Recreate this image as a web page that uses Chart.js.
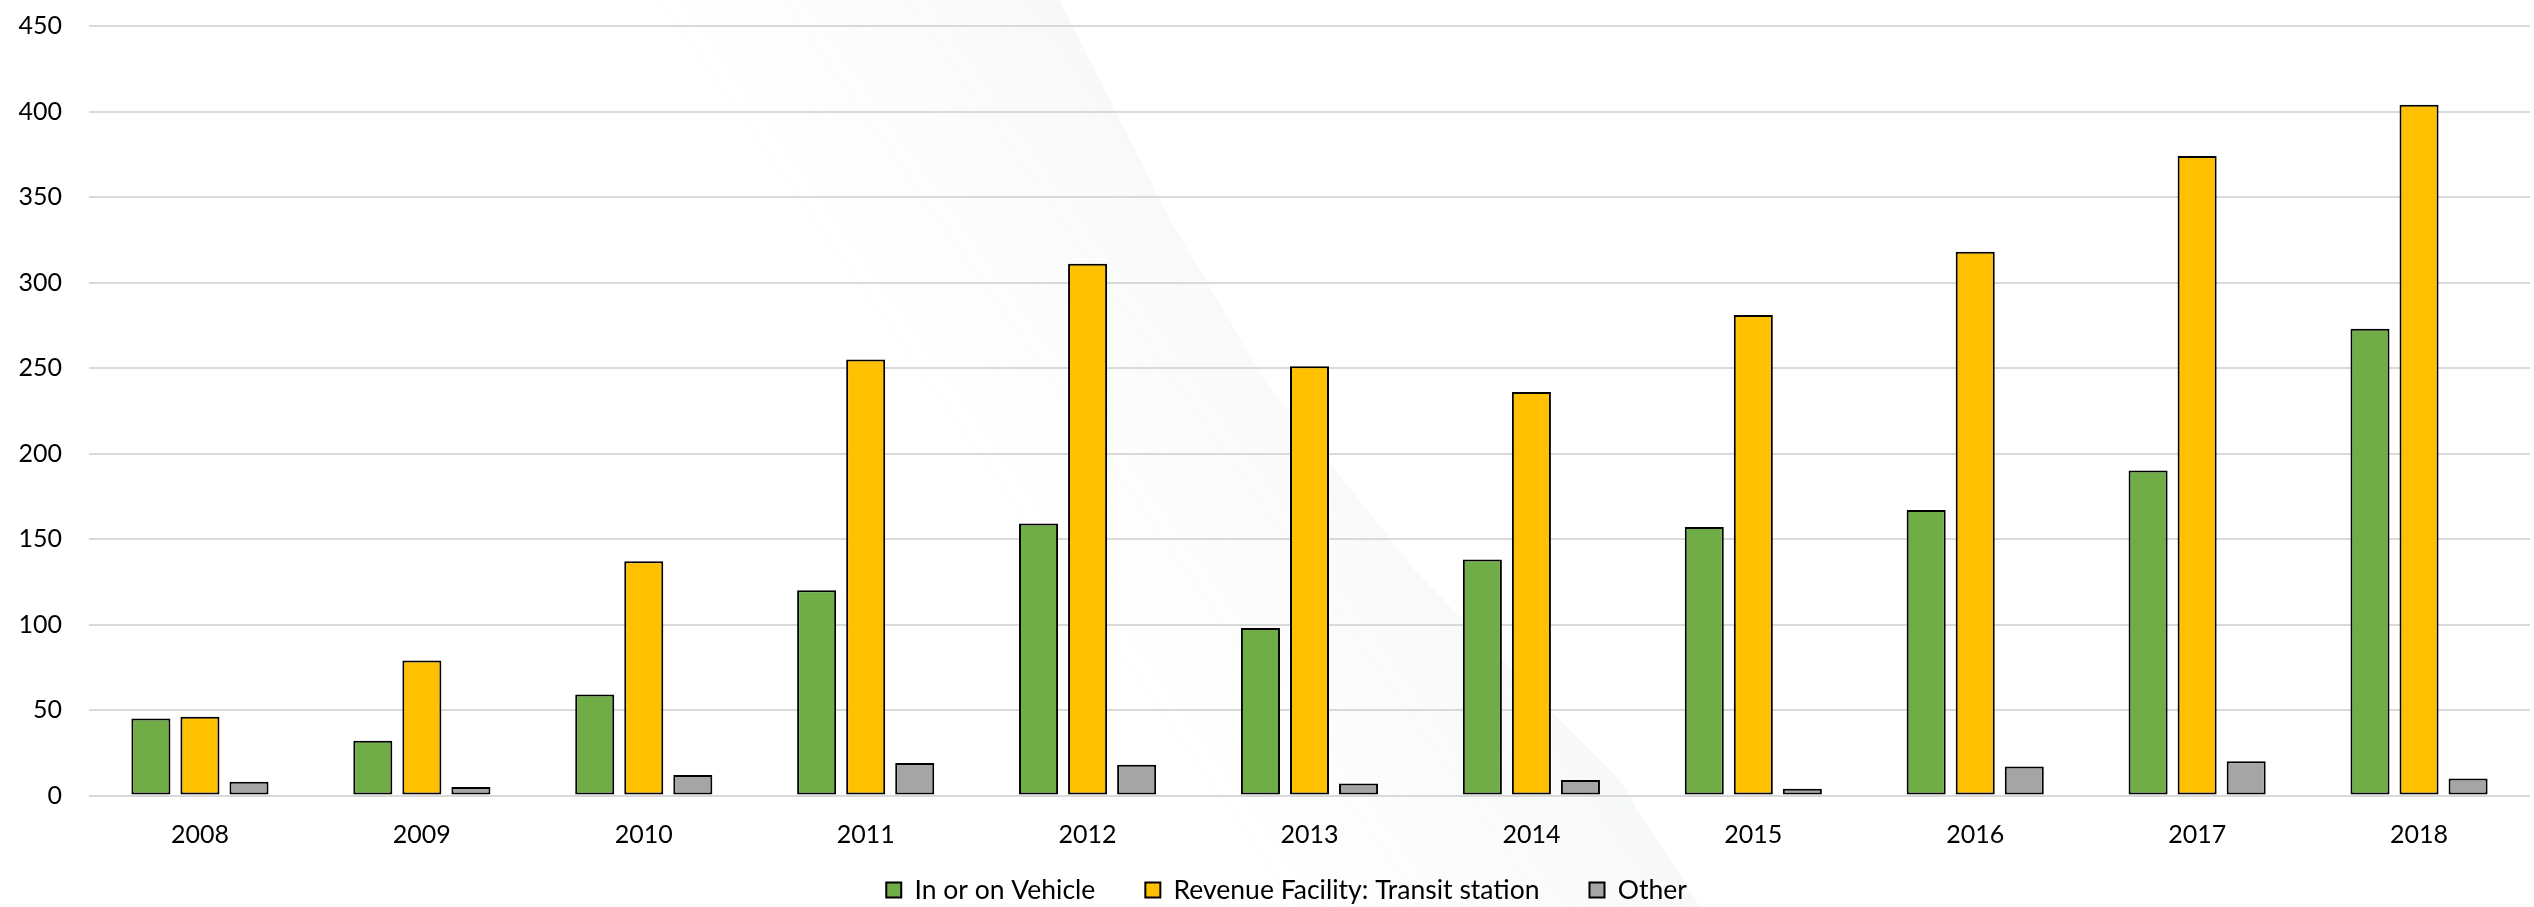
<!DOCTYPE html>
<html>
<head>
<meta charset="utf-8">
<script src="https://cdn.jsdelivr.net/npm/chart.js@4/dist/chart.umd.min.js"></script>
<style>
  html, body { margin: 0; padding: 0; background: #ffffff; }
  #wrap { width: 2534px; height: 907px; }
</style>
</head>
<body>
<div id="wrap"><canvas id="c" width="2534" height="907"></canvas></div>
<script>
// Incidents by location, 2008-2018
const years = ['2008', '2009', '2010', '2011', '2012', '2013', '2014', '2015', '2016', '2017', '2018'];
const inOrOnVehicle = [45, 32, 59, 120, 159, 98, 138, 157, 167, 190, 273];
const transitStation = [46, 79, 137, 255, 311, 251, 236, 281, 318, 374, 404];
const other = [8, 5, 12, 19, 18, 7, 9, 4, 17, 20, 10];
const seriesNames = ['In or on Vehicle', 'Revenue Facility: Transit station', 'Other'];

const LEGEND_FONT = 26.5;
const LEGEND_GAP = 50;

// Soft light sweep behind the plot
const hazePlugin = {
  id: 'haze',
  beforeDraw(chart) {
    const { ctx, width, height } = chart;
    const edge = [
      [0.418, 0.0], [0.462, 0.243], [0.499, 0.419],
      [0.558, 0.628], [0.639, 0.860], [0.671, 1.0]
    ].map(([fx, fy]) => [fx * width, fy * height]);
    const spread = 420;
    const nx = 0.817, ny = -0.576;
    const mx = 0.545 * width, my = 0.5 * height;
    const depth = spread * nx;
    const grad = ctx.createLinearGradient(mx - depth * nx, my - depth * ny, mx, my);
    grad.addColorStop(0, 'rgba(140, 160, 155, 0)');
    grad.addColorStop(1, 'rgba(140, 160, 155, 0.065)');
    ctx.save();
    ctx.beginPath();
    ctx.moveTo(edge[0][0], edge[0][1]);
    for (let i = 1; i < edge.length; i++) ctx.lineTo(edge[i][0], edge[i][1]);
    for (let i = edge.length - 1; i >= 0; i--) ctx.lineTo(edge[i][0] - spread, edge[i][1]);
    ctx.closePath();
    ctx.fillStyle = grad;
    ctx.fill();
    ctx.restore();
  }
};

// Keep the wide gaps between legend entries but sit the row closer to the axis labels
const legendRowPlugin = {
  id: 'legendRow',
  afterLayout(chart) {
    const lg = chart.legend;
    if (!lg) return;
    const rowCenter = chart.height * 0.9813;
    const current = lg.top + LEGEND_GAP + LEGEND_FONT / 2;
    const delta = current - rowCenter;
    lg.top -= delta;
    lg.bottom -= delta;
    const nudge = chart.width * 0.0085;
    lg.left += nudge;
    lg.right += nudge;
  }
};

Chart.defaults.font.family = 'Lato, "Liberation Sans", sans-serif';
Chart.defaults.font.size = 25;
Chart.defaults.color = '#000000';

const barStyle = {
  borderColor: '#000000',
  borderWidth: 2,
  borderSkipped: false,
  barPercentage: 0.796,
  categoryPercentage: 0.663
};

new Chart(document.getElementById('c'), {
  type: 'bar',
  data: {
    labels: years,
    datasets: [
      Object.assign({ label: seriesNames[0], data: inOrOnVehicle, backgroundColor: '#70AD47' }, barStyle),
      Object.assign({ label: seriesNames[1], data: transitStation, backgroundColor: '#FFC000' }, barStyle),
      Object.assign({ label: seriesNames[2], data: other, backgroundColor: '#A5A5A5' }, barStyle)
    ]
  },
  options: {
    responsive: false,
    devicePixelRatio: 1,
    animation: false,
    layout: { padding: { top: 26, right: 4, bottom: -53, left: 0 } },
    plugins: {
      legend: {
        position: 'bottom',
        labels: {
          boxWidth: 15,
          boxHeight: 15,
          padding: LEGEND_GAP,
          color: '#000000',
          font: { size: LEGEND_FONT }
        }
      },
      tooltip: { enabled: false }
    },
    scales: {
      x: {
        grid: { display: false, drawTicks: false },
        border: { display: false },
        ticks: { padding: 24, color: '#000000' }
      },
      y: {
        min: 0,
        max: 450,
        ticks: { stepSize: 50, padding: 27, color: '#000000' },
        grid: { color: '#D9D9D9', lineWidth: 2, drawTicks: false },
        border: { display: false },
        afterFit(scale) {
          scale.width = 89;
          scale.paddingTop = 0;
          scale.paddingBottom = 0;
        }
      }
    }
  },
  plugins: [hazePlugin, legendRowPlugin]
});
</script>
</body>
</html>
